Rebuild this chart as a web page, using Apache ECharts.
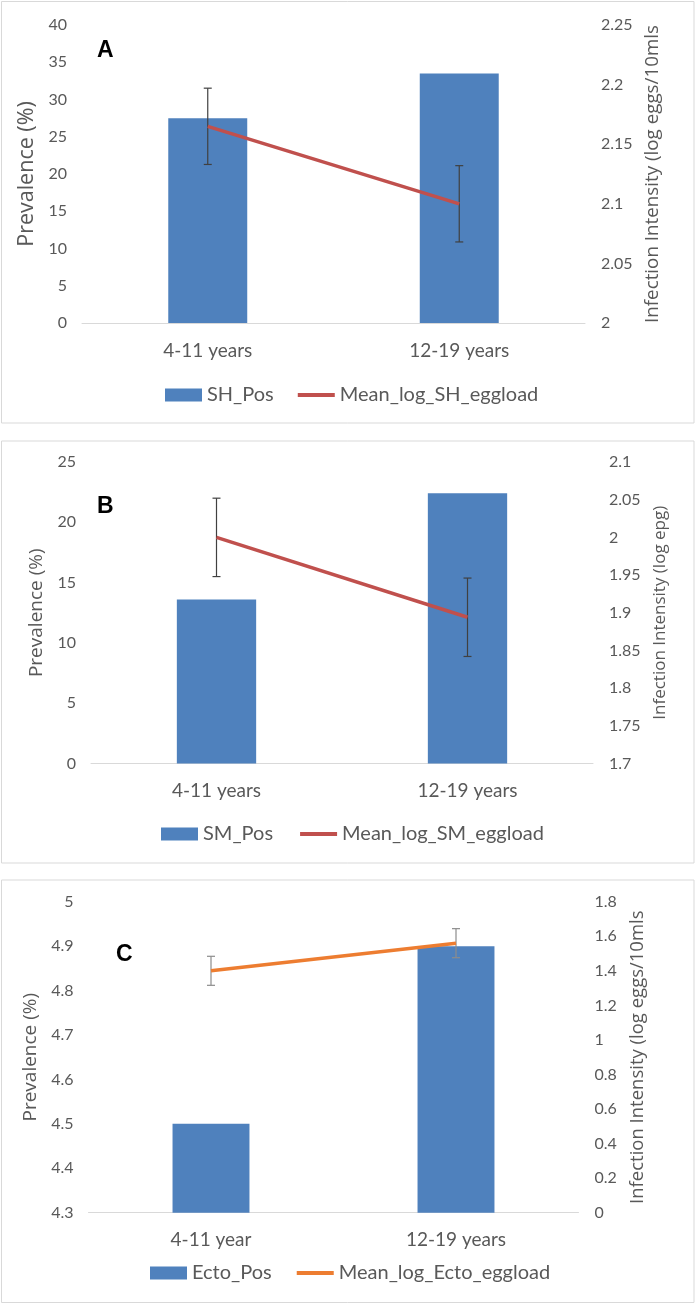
<!DOCTYPE html>
<html>
<head>
<meta charset="utf-8">
<script src="https://cdn.jsdelivr.net/npm/echarts@6/dist/echarts.min.js"></script>
<style>
html,body{margin:0;padding:0;background:#fff;}
#main{width:696px;height:1304px;}
</style>
</head>
<body>
<div id="main"></div>
<script>
// ---------- data ----------
const catsA = ['4-11 years', '12-19 years'];
const shPos = [27.5, 33.5];
const shEgg = [2.165, 2.1];
const shErr = [0.032, 0.032];

const catsB = ['4-11 years', '12-19 years'];
const smPos = [13.6, 22.4];
const smEgg = [2.0, 1.894];
const smErr = [0.052, 0.052];

const catsC = ['4-11 year', '12-19 years'];
const ectoPos = [4.5, 4.9];
const ectoEgg = [1.4, 1.56];
const ectoErr = [0.084, 0.084];

// axis ranges: [min, max, interval]
const leftA = [0, 40, 5],    rightA = [2, 2.25, 0.05];
const leftB = [0, 25, 5],    rightB = [1.7, 2.1, 0.05];
const leftC = [4.3, 5, 0.1], rightC = [0, 1.8, 0.2];

const namesA = ['SH_Pos', 'Mean_log_SH_eggload'];
const namesB = ['SM_Pos', 'Mean_log_SM_eggload'];
const namesC = ['Ecto_Pos', 'Mean_log_Ecto_eggload'];

// ---------- styles ----------
const BLUE = '#4f81bd', RED = '#c0504d', ORANGE = '#ed7d31';
const TXT = '#595959', AX = '#d9d9d9';
const TICKFONT = 'Lato';
const TITLEFONT = 'Open Sans';
const LINEICON = 'path://M0,0H37V4H0Z';

const chart = echarts.init(document.getElementById('main'), null, {renderer: 'canvas'});

function xAxis(gi, cats) {
  return {
    type: 'category', gridIndex: gi, data: cats,
    axisLine: {lineStyle: {color: AX, width: 1}},
    axisTick: {show: false},
    axisLabel: {color: TXT, fontFamily: TICKFONT, fontSize: 19, margin: 18}
  };
}
function yAxis(gi, r, pos, name, nameGap, nameSize) {
  return {
    type: 'value', gridIndex: gi, position: pos,
    min: r[0], max: r[1], interval: r[2],
    splitLine: {show: false},
    axisLine: {show: false}, axisTick: {show: false},
    axisLabel: {color: TXT, fontFamily: TICKFONT, fontSize: 16, margin: pos === 'left' ? 15 : 16},
    name: name, nameLocation: 'middle', nameGap: nameGap, nameRotate: 90,
    nameTextStyle: {color: TXT, fontFamily: TITLEFONT, fontSize: nameSize}
  };
}
function errSeries(xi, yi, vals, errs, color) {
  return {
    type: 'custom', xAxisIndex: xi, yAxisIndex: yi, z: 3, silent: true,
    data: vals.map((v, i) => [i, v - errs[i], v + errs[i]]),
    renderItem: function (params, api) {
      const x = api.value(0);
      const lo = api.coord([x, api.value(1)]);
      const hi = api.coord([x, api.value(2)]);
      const hw = 4;
      const st = {stroke: color, lineWidth: 1.2};
      return {type: 'group', children: [
        {type: 'line', shape: {x1: lo[0], y1: lo[1], x2: hi[0], y2: hi[1]}, style: st},
        {type: 'line', shape: {x1: lo[0] - hw, y1: lo[1], x2: lo[0] + hw, y2: lo[1]}, style: st},
        {type: 'line', shape: {x1: hi[0] - hw, y1: hi[1], x2: hi[0] + hw, y2: hi[1]}, style: st}
      ]};
    }
  };
}
function barSeries(name, xi, yi, data, w) {
  return {name: name, type: 'bar', xAxisIndex: xi, yAxisIndex: yi, data: data,
    barWidth: w, itemStyle: {color: BLUE}, z: 2};
}
function lineSeries(name, xi, yi, data, color) {
  return {name: name, type: 'line', xAxisIndex: xi, yAxisIndex: yi, data: data,
    symbol: 'none', lineStyle: {color: color, width: 3.5}, itemStyle: {color: color}, z: 4};
}
function legend(names, left, top, gap) {
  return {
    data: [{name: names[0], icon: 'rect'}, {name: names[1], icon: LINEICON}],
    left: left, top: top, padding: 0, itemWidth: 37, itemHeight: 13, itemGap: gap,
    symbolKeepAspect: true,
    textStyle: {color: TXT, fontFamily: TICKFONT, fontSize: 20}
  };
}
function panelText(t, x, y) {
  return {type: 'text', left: x, top: y, z: 10,
    style: {text: t, font: 'bold 23px "Liberation Sans"', fill: '#000'}};
}
function box(y, h) {
  return {type: 'rect', shape: {x: 1.5, y: y, width: 692.5, height: h},
    style: {fill: 'none', stroke: AX, lineWidth: 1}, z: -1};
}

chart.setOption({
  animation: false,
  backgroundColor: '#fff',
  grid: [
    {left: 82, width: 503, top: 25, height: 298},
    {left: 91, width: 502, top: 462, height: 301.5},
    {left: 88.5, width: 490, top: 901.7, height: 311}
  ],
  xAxis: [xAxis(0, catsA), xAxis(1, catsB), xAxis(2, catsC)],
  yAxis: [
    yAxis(0, leftA, 'left', 'Prevalence (%)', 38, 21.5),
    yAxis(0, rightA, 'right', 'Infection Intensity (log eggs/10mls', 55, 18.8),
    yAxis(1, leftB, 'left', 'Prevalence (%)', 39.5, 19),
    yAxis(1, rightB, 'right', 'Infection Intensity (log epg)', 58, 17),
    yAxis(2, leftC, 'left', 'Prevalence (%)', 44, 19),
    yAxis(2, rightC, 'right', 'Infection Intensity (log eggs/10mls', 47.5, 18.5)
  ],
  legend: [
    legend(namesA, 165, 385, 24),
    legend(namesB, 161, 824, 27),
    legend(namesC, 150, 1263, 25)
  ],
  series: [
    barSeries(namesA[0], 0, 0, shPos, '31.4%'),
    errSeries(0, 1, shEgg, shErr, '#404040'),
    lineSeries(namesA[1], 0, 1, shEgg, RED),
    barSeries(namesB[0], 1, 2, smPos, '31.6%'),
    errSeries(1, 3, smEgg, smErr, '#404040'),
    lineSeries(namesB[1], 1, 3, smEgg, RED),
    barSeries(namesC[0], 2, 4, ectoPos, '31.4%'),
    errSeries(2, 5, ectoEgg, ectoErr, '#8c8c8c'),
    lineSeries(namesC[1], 2, 5, ectoEgg, ORANGE)
  ],
  graphic: [
    box(1.5, 421.5), box(441, 422), box(880, 422.5),
    panelText('A', 97, 39.5),
    panelText('B', 97, 495.5),
    panelText('C', 116, 943.5)
  ]
});
</script>
</body>
</html>
